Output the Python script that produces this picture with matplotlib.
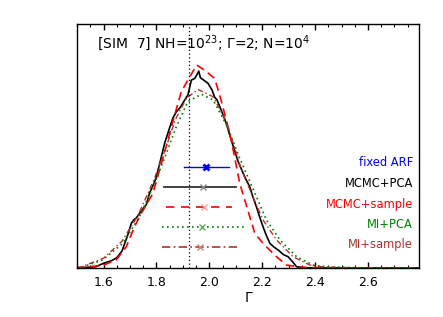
import numpy as np
import matplotlib
matplotlib.use("Agg")
import matplotlib.pyplot as plt
from matplotlib.ticker import MultipleLocator, FormatStrFormatter

plt.rcParams['font.family'] = ['DejaVu Sans']
plt.rcParams['mathtext.default'] = 'regular'

# posterior densities (scaled to axis height)
x_pca = [1.50, 1.53, 1.57, 1.60, 1.63, 1.65, 1.67, 1.69, 1.705, 1.715, 1.724, 1.74, 1.762,
         1.774, 1.79, 1.80, 1.815, 1.831, 1.85, 1.862, 1.875, 1.888, 1.905, 1.919, 1.932,
         1.945, 1.952, 1.960, 1.966, 1.976, 1.985, 1.995, 2.01, 2.02, 2.029, 2.04, 2.052,
         2.065, 2.077, 2.09, 2.109, 2.128, 2.14, 2.153, 2.165, 2.178, 2.19, 2.203, 2.215,
         2.229, 2.245, 2.26, 2.28, 2.298, 2.315, 2.33, 2.36, 2.40, 2.6, 2.8]
y_pca = [0.0, 0.002, 0.005, 0.019, 0.03, 0.042, 0.07, 0.13, 0.183, 0.198, 0.205, 0.23, 0.26,
         0.307, 0.345, 0.374, 0.44, 0.511, 0.575, 0.614, 0.64, 0.655, 0.685, 0.709, 0.77,
         0.777, 0.79, 0.807, 0.78, 0.772, 0.765, 0.757, 0.73, 0.70, 0.689, 0.66, 0.627,
         0.59, 0.545, 0.50, 0.436, 0.388, 0.36, 0.333, 0.29, 0.251, 0.21, 0.169, 0.135,
         0.101, 0.085, 0.074, 0.055, 0.046, 0.025, 0.005, 0.001, 0.0, 0.0, 0.0]

x_samp = [1.50, 1.547, 1.60, 1.648, 1.686, 1.717, 1.743, 1.787, 1.8375, 1.862, 1.894, 1.919,
          1.952, 1.983, 2.020, 2.039, 2.062, 2.084, 2.115, 2.153, 2.172, 2.203, 2.254,
          2.292, 2.35, 2.45, 2.8]
y_samp = [0.0, 0.005, 0.012, 0.033, 0.087, 0.169, 0.224, 0.306, 0.50, 0.60, 0.723, 0.77,
          0.832, 0.81, 0.777, 0.709, 0.615, 0.518, 0.347, 0.21, 0.142, 0.101, 0.046,
          0.012, 0.003, 0.0, 0.0]

x_mipca = [1.50, 1.522, 1.597, 1.673, 1.736, 1.793, 1.8375, 1.875, 1.919, 1.970, 2.014,
           2.065, 2.115, 2.134, 2.178, 2.216, 2.267, 2.330, 2.393, 2.444, 2.55, 2.8]
y_mipca = [0.002, 0.005, 0.033, 0.101, 0.21, 0.347, 0.47, 0.579, 0.682, 0.712, 0.689,
           0.586, 0.45, 0.402, 0.292, 0.197, 0.115, 0.046, 0.012, 0.005, 0.001, 0.0]

x_misamp = [1.50, 1.52, 1.60, 1.67, 1.73, 1.79, 1.835, 1.871, 1.913, 1.957, 2.014, 2.065,
            2.122, 2.165, 2.203, 2.254, 2.317, 2.380, 2.43, 2.55, 2.8]
y_misamp = [0.002, 0.006, 0.04, 0.11, 0.215, 0.36, 0.49, 0.607, 0.695, 0.732, 0.702, 0.6,
            0.40, 0.292, 0.197, 0.115, 0.046, 0.012, 0.004, 0.001, 0.0]

# interval summaries
labels = ["fixed ARF", "MCMC+PCA", "MCMC+sample", "MI+PCA", "MI+sample"]
centers = [1.989, 1.976, 1.979, 1.974, 1.966]
lows = [1.903, 1.827, 1.835, 1.821, 1.821]
highs = [2.073, 2.100, 2.085, 2.132, 2.109]
bar_y = [0.415, 0.332, 0.251, 0.169, 0.086]
label_y = [0.434, 0.345, 0.260, 0.179, 0.096]
true_gamma = 1.922

colors = ["blue", "black", "red", "green", "#b03030"]
marker_colors = ["blue", "#888888", "#ff9a9a", "#66a866", "#c88080"]
styles = ["-", "-", (0, (5, 4)), (0, (1, 2)), (0, (5, 2, 1, 2))]
widths = [1.0, 1.3, 1.2, 1.2, 1.2]

fig = plt.figure(figsize=(4.43, 3.17), dpi=100)
ax = fig.add_axes([0.174, 0.1546, 0.772, 0.7697])

ax.plot(x_pca, y_pca, color="black", lw=1.2)
ax.plot(x_samp, y_samp, color="red", lw=1.2, ls=(0, (5, 3)))
ax.plot(x_mipca, y_mipca, color="green", lw=1.2, ls=(0, (1, 2)))
ax.plot(x_misamp, y_misamp, color="#b03030", lw=1.0, ls=(0, (4, 2, 1, 2)))

ax.axvline(true_gamma, color="black", lw=0.9, ls=(0, (1, 2)))

for i in range(len(labels)):
    c = colors[i] if i != 1 else "#333333"
    ax.plot([lows[i], highs[i]], [bar_y[i], bar_y[i]], color=c, lw=widths[i], ls=styles[i])
    ax.plot(centers[i], bar_y[i], marker="x", color=marker_colors[i], ms=5,
            mew=2.0 if i == 0 else 1.0)
    ax.text(0.982, label_y[i], labels[i], color=colors[i], fontsize=8.3,
            ha="right", va="center", transform=ax.transAxes)

ax.text(0.058, 0.922, "[SIM  7] NH=10$^{23}$; \u0393=2; N=10$^4$", transform=ax.transAxes,
        fontsize=10, ha="left", va="center")

ax.set_xlim(1.5, 2.793)
ax.set_ylim(0, 1)
ax.set_yticks([])
ax.xaxis.set_major_locator(MultipleLocator(0.2))
ax.xaxis.set_minor_locator(MultipleLocator(0.05))
ax.tick_params(axis="x", which="both", direction="in", top=True, labelsize=9, pad=6)
ax.tick_params(axis="x", which="major", length=4.5, width=1.0)
ax.tick_params(axis="x", which="minor", length=2.5, width=0.8)
ax.xaxis.set_major_formatter(FormatStrFormatter("%.1f"))
ax.set_xlabel("\u0393", fontsize=10, labelpad=1)
for s in ax.spines.values():
    s.set_linewidth(1.0)

fig.savefig("out.png", dpi=100)
